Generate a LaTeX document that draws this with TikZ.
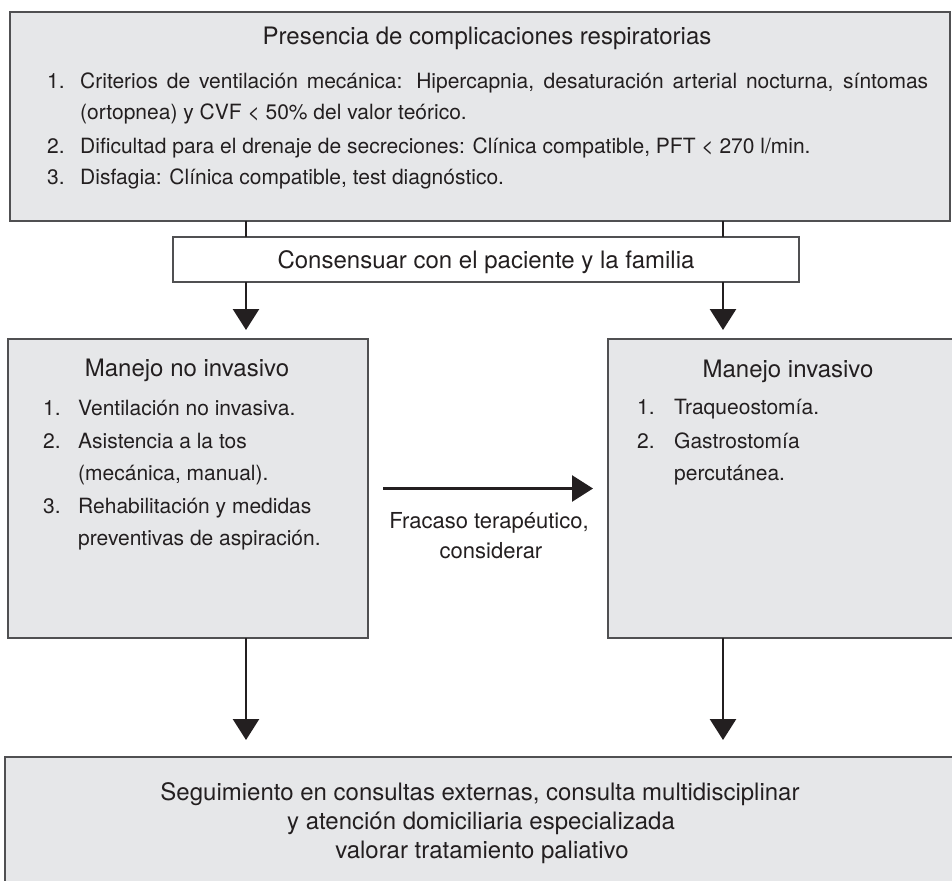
\documentclass[tikz,border=0pt]{standalone}
\usepackage{fontspec}
\setmainfont{TeX Gyre Heros}
\usetikzlibrary{arrows.meta}
\definecolor{boxfill}{HTML}{E6E7E9}
\definecolor{bordc}{HTML}{505052}
\definecolor{txtc}{HTML}{231F20}
\newcommand{\hfs}{\fontsize{24}{29}\selectfont}
\newcommand{\lfs}{\fontsize{21}{26}\selectfont}
\begin{document}
\begin{tikzpicture}[x=1pt,y=-1pt,
  box/.style={draw=bordc,line width=2pt,fill=boxfill,rectangle,inner sep=0pt,outer sep=0pt,anchor=north west},
  wbox/.style={box,fill=white},
  lt/.style={inner sep=0pt,anchor=base west,text=txtc,font=\lfs},
  ht/.style={inner sep=0pt,anchor=base,text=txtc,font=\hfs},
  lc/.style={lt,anchor=base},
  conn/.style={line width=2.6pt,draw=txtc},
  arr/.style={conn,-{Triangle[width=26pt,length=21pt]}}]
\clip (0,0) rectangle (952,880);
\fill[white] (0,0) rectangle (952,880);
% boxes
\node[box,minimum width=940pt,minimum height=209pt] (top) at (10,12) {};
\node[wbox,minimum width=626pt,minimum height=45pt] (cons) at (173,237) {};
\node[box,minimum width=360pt,minimum height=299pt] (left) at (8,339) {};
\node[box,minimum width=360pt,minimum height=299pt] (right) at (608,339) {};
\node[box,minimum width=960pt,minimum height=140pt] (bot) at (5,757) {};
% column coordinates
\coordinate (cL) at (246,0);
\coordinate (cR) at (723,0);
% connectors
\draw[conn] (top.south -| cL) -- (cons.north -| cL);
\draw[conn] (top.south -| cR) -- (cons.north -| cR);
\draw[arr,shorten >=9pt] (cons.south -| cL) -- (left.north -| cL);
\draw[arr,shorten >=9pt] (cons.south -| cR) -- (right.north -| cR);
\draw[arr,shorten <=15pt,shorten >=15pt] (left.east) -- (right.west);
\draw[arr,shorten >=17pt] (left.south -| cL) -- (bot.north -| cL);
\draw[arr,shorten >=17pt] (right.south -| cR) -- (bot.north -| cR);
% top box text
\node[ht] (ttitle) at (487,45) {Presencia de complicaciones respiratorias};
\node[lt] (n1) at (47,89) {1.};
\node[lt] (l1a) at (80,89) {\makebox[848pt][s]{Criterios de ventilación mecánica: Hipercapnia, desaturación arterial nocturna, síntomas}};
\node[lt] (l1b) at (80,120) {(ortopnea) y CVF < 50\% del valor teórico.};
\node[lt] (n2) at (47,153) {2.};
\node[lt] (l2) at (80,153) {Dificultad para el drenaje de secreciones: Clínica compatible, PFT < 270 l/min.};
\node[lt] (n3) at (47,184) {3.};
\node[lt] (l3) at (80,184) {Disfagia: Clínica compatible, test diagnóstico.};
% consensuar
\node[ht] (ctext) at (486,268) {Consensuar con el paciente y la familia};
% left box
\node[ht] (ltitle) at (187,376) {Manejo no invasivo};
\node[lt] (ln1) at (43,415) {1.};
\node[lt] (lt1) at (78,415) {Ventilación no invasiva.};
\node[lt] (ln2) at (43,448) {2.};
\node[lt] (lt2a) at (78,448) {Asistencia a la tos};
\node[lt] (lt2b) at (78,480) {(mecánica, manual).};
\node[lt] (ln3) at (43,513) {3.};
\node[lt] (lt3a) at (78,513) {Rehabilitación y medidas};
\node[lt] (lt3b) at (78,545) {preventivas de aspiración.};
% right box
\node[ht] (rtitle) at (788,377) {Manejo invasivo};
\node[lt] (rn1) at (637,414) {1.};
\node[lt] (rt1) at (674,414) {Traqueostomía.};
\node[lt] (rn2) at (637,448) {2.};
\node[lt] (rt2a) at (674,448) {Gastrostomía};
\node[lt] (rt2b) at (674,480) {percutánea.};
% arrow label
\node[lc,font=\fontsize{22}{26}\selectfont] (fr1) at (489,528) {Fracaso terapéutico,};
\node[lc,font=\fontsize{22}{26}\selectfont] (fr2) at (491,558) {considerar};
% bottom box
\node[ht] (b1) at (480,800) {Seguimiento en consultas externas, consulta multidisciplinar};
\node[ht] (b2) at (481,829) {y atención domiciliaria especializada};
\node[ht] (b3) at (482,858) {valorar tratamiento paliativo};
\end{tikzpicture}
\end{document}
